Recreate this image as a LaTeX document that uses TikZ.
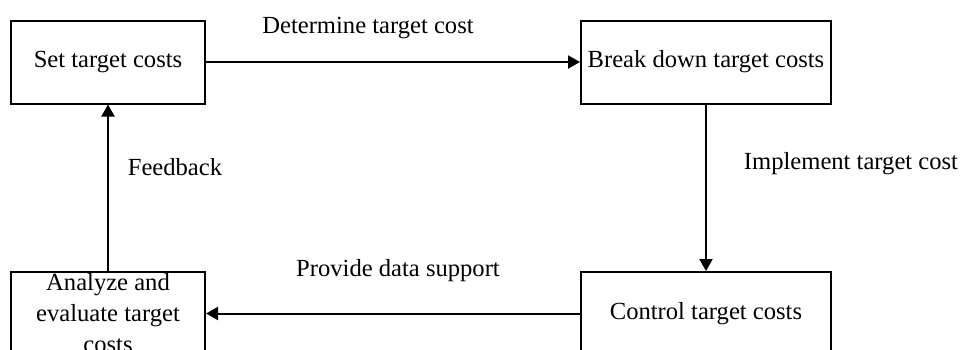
\documentclass[tikz,border=0pt]{standalone}
\usepackage{fontspec}
\setmainfont{Liberation Serif}
\usetikzlibrary{positioning,arrows.meta}

\begin{document}
\begin{tikzpicture}[
  x=0.5pt, y=-0.5pt,
  every node/.style={font=\fontsize{12.3}{15.5}\selectfont},
  stage/.style={draw, line width=1pt, minimum height=41.5pt, inner sep=0pt, align=center},
  flow/.style={-{Triangle[length=6pt,width=6.5pt]}, line width=1pt},
  note/.style={inner sep=0pt}
]
\useasboundingbox (0,0) rectangle (968,349);
% stages of the cycle
\node[stage, minimum width=97pt] (set) at (108,62) {Set target costs};
\node[stage, minimum width=125pt] (brk) at (706,62) {Break down target costs};
\node[stage, minimum width=125pt] (ctrl) at (706,313.5) {Control target costs};
\node[stage, minimum width=97pt] (ana) at (108,313.5) {Analyze and\\evaluate target\\costs};
% connectors
\draw[flow] (set) -- (brk);
\draw[flow] (brk) -- (ctrl);
\draw[flow] (ctrl) -- (ana);
\draw[flow] (ana) -- (set);
% labels
\node[note] (detlbl) at (368,28) {Determine target cost};
\node[note] (implbl) at (851,164) {Implement target cost};
\node[note] (prolbl) at (398,271) {Provide data support};
\node[note] (feedlbl) at (175,167) {Feedback};
\end{tikzpicture}
\end{document}
